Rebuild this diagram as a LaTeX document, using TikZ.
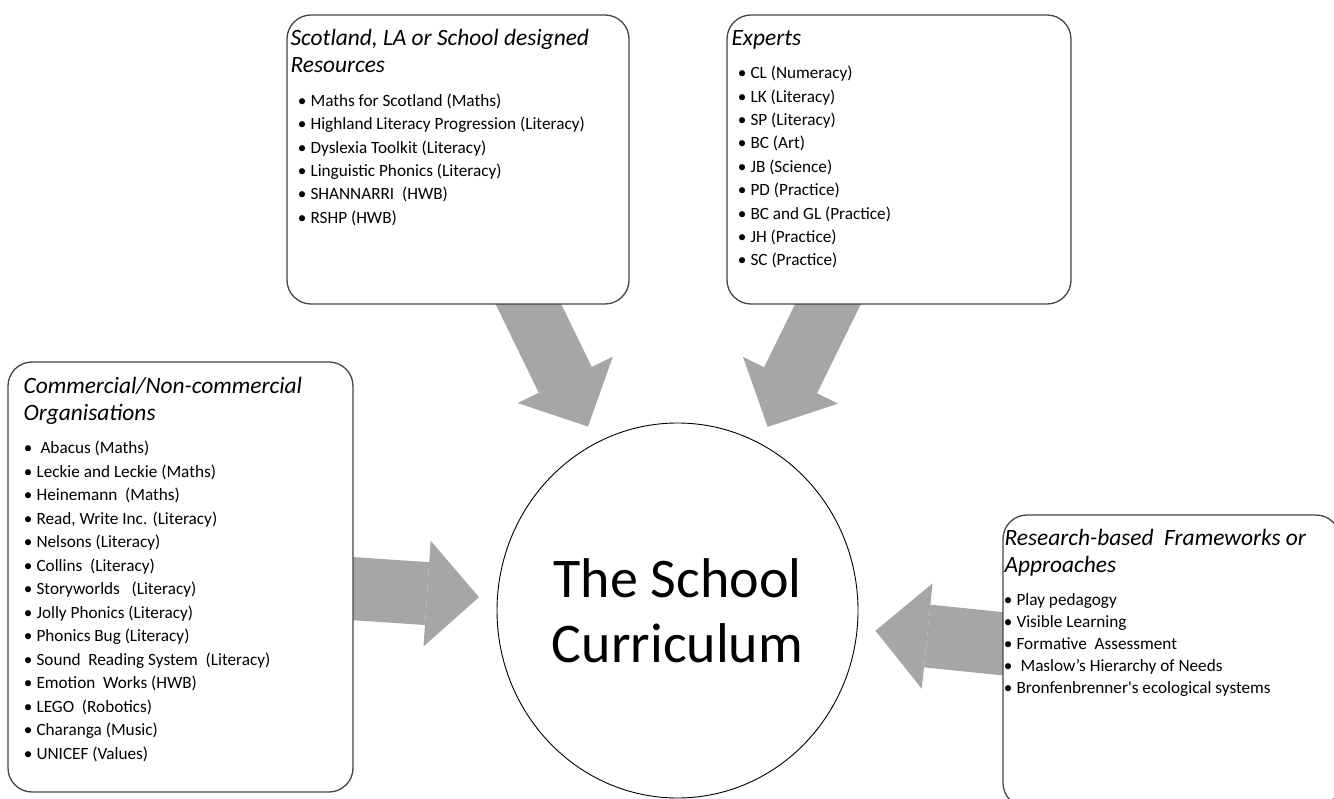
\documentclass[tikz,border=0pt]{standalone}
\usepackage{fontspec}
\setmainfont{Carlito}
\usetikzlibrary{shapes.geometric,arrows.meta,backgrounds}
\definecolor{feedgray}{HTML}{A6A6A6}
\definecolor{boxline}{HTML}{454545}
\tikzset{
	srcbox/.style={draw=boxline, line width=1.3pt, fill=white, rounded corners=24pt, inner sep=0pt},
	head/.style={anchor=base west, inner sep=0pt, font=\fontsize{23.4}{27}\selectfont\itshape},
	item/.style={anchor=base west, inner sep=0pt, font=\fontsize{17.2}{20}\selectfont},
	feed/.style={draw=feedgray, line width=63pt, shorten >=18pt, -{Triangle[width=106pt,length=52pt,line width=0pt]}},
}
\newcommand{\bul}{\llap{\textbullet\hspace{4.2pt}}}
\begin{document}
\begin{tikzpicture}[x=1pt, y=-1pt]
	\useasboundingbox (0,0) rectangle (1334,799);
	\clip (0,0) rectangle (1334,799);
	% the four sources
	\node[srcbox, minimum width=342pt, minimum height=289pt] (res) at (458,159.5) {};
	\node[srcbox, minimum width=344pt, minimum height=289pt] (exp) at (899,159.5) {};
	\node[srcbox, minimum width=345pt, minimum height=430pt] (org) at (180.5,577) {};
	\node[srcbox, minimum width=337pt, minimum height=292pt] (fw) at (1171.5,661) {};
	% centre
	\node[draw, ellipse, line width=0.9pt, minimum width=361pt, minimum height=375pt, inner sep=0pt, align=center, font=\fontsize{56}{65}\selectfont] (core) at (677.5,610.5) {The School\\Curriculum};
	% headings
	\node[head] (res-h1) at ([shift={(4,31)}]res.north west) {Scotland, LA or School designed};
	\node[head] (res-h2) at ([shift={(4,58)}]res.north west) {Resources};
	\node[head] (exp-h1) at ([shift={(5,31)}]exp.north west) {Experts};
	\node[head] (org-h1) at ([shift={(16,32)}]org.north west) {Commercial/Non-commercial};
	\node[head] (org-h2) at ([shift={(16,59)}]org.north west) {Organisations};
	\node[head] (fw-h1) at ([shift={(2,31)}]fw.north west) {Research-based~ Frameworks or};
	\node[head] (fw-h2) at ([shift={(2,58)}]fw.north west) {Approaches};
	% bullet lists
	\foreach \t [count=\i] in {Maths for Scotland (Maths), Highland Literacy Progression (Literacy), Dyslexia Toolkit (Literacy), Linguistic Phonics (Literacy), SHANNARRI~ (HWB), RSHP (HWB)}
		\node[item] (res-\i) at ([shift={(24,68.6+23.4*\i)}]res.north west) {\bul\t};
	\foreach \t [count=\i] in {CL (Numeracy), LK (Literacy), SP (Literacy), BC (Art), JB (Science), PD (Practice), BC and GL (Practice), JH (Practice), SC (Practice)}
		\node[item] (exp-\i) at ([shift={(24,41+23.4*\i)}]exp.north west) {\bul\t};
	\foreach \t [count=\i] in {{\hspace{4pt}Abacus (Maths)}, Leckie and Leckie (Maths), Heinemann~ (Maths), {Read, Write Inc. (Literacy)}, Nelsons (Literacy), Collins~ (Literacy), Storyworlds~~ (Literacy), Jolly Phonics (Literacy), Phonics Bug (Literacy), Sound~ Reading System~ (Literacy), Emotion~ Works (HWB), LEGO~ (Robotics), Charanga (Music), UNICEF (Values)}
		\node[item] (org-\i) at ([shift={(29,69+23.5*\i)}]org.north west) {\bul\t};
	\foreach \t [count=\i] in {Play pedagogy, Visible Learning, Formative~ Assessment, {\hspace{4pt}Maslow’s Hierarchy of Needs}, Bronfenbrenner\textquotesingle s ecological systems}
		\node[item] (fw-\i) at ([shift={(14,69+22*\i)}]fw.north west) {\bul\t};
	% block arrows into the centre
	\begin{scope}[on background layer]
		\draw[feed, line width=59pt] (res.center) -- (core);
		\draw[feed, line width=59pt] (exp.center) -- (core);
		\draw[feed] (org.center) -- (core);
		\draw[feed] (fw.center) -- (core);
	\end{scope}
\end{tikzpicture}
\end{document}
